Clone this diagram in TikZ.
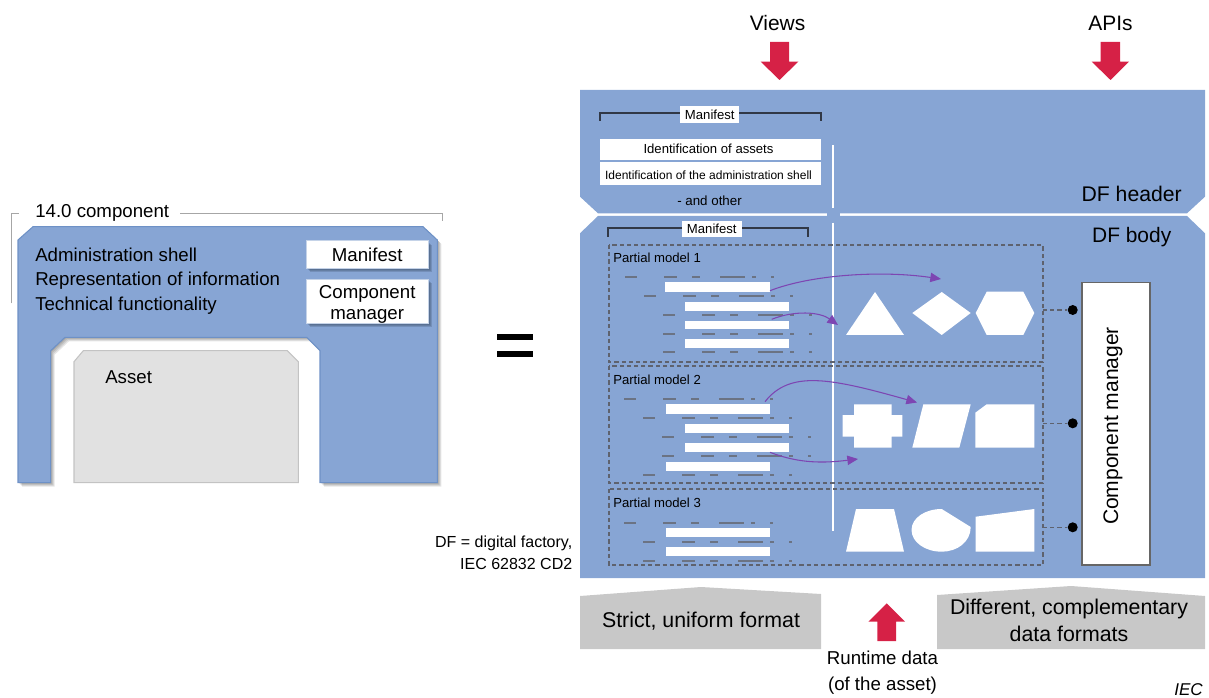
\documentclass[tikz,border=0pt]{standalone}
\usepackage{fontspec}
\setmainfont{Liberation Sans}
\usetikzlibrary{arrows.meta}
\definecolor{panel}{RGB}{135,165,212}
\definecolor{panelEdge}{RGB}{110,145,198}
\definecolor{assetGray}{RGB}{225,225,225}
\definecolor{assetEdge}{RGB}{195,195,195}
\definecolor{fmtGray}{RGB}{200,200,200}
\definecolor{redArrow}{RGB}{214,33,70}
\definecolor{purpleArrow}{RGB}{125,70,178}
\definecolor{tickDark}{RGB}{70,80,100}
\definecolor{dashDark}{RGB}{65,70,85}
\tikzset{
  px/.style={x=0.75pt,y=-0.75pt},
  bigtext/.style={font=\fontsize{14pt}{16pt}\selectfont,inner sep=0pt,anchor=base west},
  boxtext/.style={font=\fontsize{14pt}{16pt}\selectfont,inner sep=0pt,anchor=base},
  centtext/.style={font=\fontsize{16pt}{20pt}\selectfont,inner sep=0pt,align=center},
  smalltext/.style={font=\fontsize{9.85pt}{11pt}\selectfont,inner sep=0pt,align=center},
  whitebar/.style={fill=white,draw=none},
  whiteshape/.style={fill=white,draw=none},
  shadowbox/.style={fill=white,draw=panelEdge!40!white,line width=0.8pt,inner sep=0pt},
  partial/.style={draw=dashDark!85,dashed,dash pattern=on 3.2pt off 2.2pt,line width=0.9pt},
  flow/.style={draw=purpleArrow,line width=0.8pt,-{Triangle[length=8pt,width=7pt]}},
  redup/.style={fill=redArrow,draw=none},
  dot/.style={circle,fill=black,inner sep=0pt,minimum size=7.5pt},
  bracket/.style={draw=tickDark!70!black,line width=1.5pt},
  graybracket/.style={draw=black!35,line width=1pt},
  lab/.style={fill=white,inner sep=0pt,font=\fontsize{9.85pt}{11pt}\selectfont}
}
\newcommand{\tickrow}[2]{% shift, y
  \foreach \a/\b in {625/637,664/677,692/700,720/745,752/756,771/774}
    \draw[draw=tickDark!80,line width=1pt] ({\a+#1},#2) -- ({\b+#1},#2);
}
\newcommand{\outerpath}{(18,240)--(33,226.7)--(423,226.7)--(437.3,240)--(437.3,482.7)--(320,482.7)--(320,350.7)--(306.7,337.3)--(65,337.3)--(50.7,350.7)--(50.7,482.7)--(18,482.7)--cycle}
\begin{document}
\begin{tikzpicture}[px]
\useasboundingbox (0,0) rectangle (1209,698);
% left shape
\foreach \o in {4,3,2,1}
  \fill[black,opacity=.1,xshift=\o*0.75pt,yshift=-\o*0.75pt] \outerpath;
\path[fill=panel,draw=panelEdge,line width=0.8pt] \outerpath;
\path[fill=assetGray,draw=assetEdge,line width=0.8pt] (74,361.7)--(83.3,350.7)--(287.3,350.7)--(298.3,361.7)--(298.3,482.7)--(74,482.7)--cycle;
\draw[graybracket] (11.7,303.3)--(11.7,213.3)--(19.3,213.3);
\draw[graybracket] (180,213.3)--(442.7,213.3)--(442.7,220.7);
\node[bigtext] (t140) at (35,218) {14.0 component};
\node[bigtext] (tadm) at (35,261.5) {Administration shell};
\node[bigtext] (trep) at (35,286) {Representation of information};
\node[bigtext] (ttec) at (35,310.5) {Technical functionality};
\node[bigtext] (tass) at (105,383) {Asset};
\foreach \o in {4,3,2}{
  \fill[black!60!panelEdge,opacity=.2] (306+\o,240.7+\o) rectangle (428.3+\o,268.3+\o);
  \fill[black!60!panelEdge,opacity=.2] (306+\o,279+\o) rectangle (428.3+\o,323.3+\o);
}
\node[shadowbox,minimum width=91.7pt,minimum height=20.7pt] (mfbox) at (367.2,254.5) {};
\node[shadowbox,minimum width=91.7pt,minimum height=33.2pt] (cmbox) at (367.2,301.2) {};
\node[boxtext] (mft) at (367.2,261.5) {Manifest};
\node[boxtext] (cmt1) at (367.2,298.3) {Component};
\node[boxtext] (cmt2) at (367.2,320) {manager};
% equals
\fill[black] (497.3,334.3) rectangle (533.3,340.5);
\fill[black] (497.3,350.7) rectangle (533.3,356.5);
% right panels
\fill[panel] (580,90)--(1205,90)--(1205,196.7)--(1187,213.3)--(598,213.3)--(580,196.7)--cycle;
\fill[panel] (598,216)--(1187,216)--(1205,233.3)--(1205,578)--(580,578)--(580,233.3)--cycle;
\fill[panel] (826.7,212) rectangle (840,217);
\draw[white,line width=1.8pt] (833,145)--(833,208.3);
\draw[white,line width=1.8pt] (833,222.7)--(833,531);
% manifest brackets
\draw[bracket] (599.5,121)--(599.5,113.5)--(821,113.5)--(821,121);
\node[lab,minimum width=44pt,minimum height=12.2pt] (mf1) at (709.8,114.5) {Manifest};
\draw[bracket] (608.3,236.7)--(608.3,228)--(808,228)--(808,236.7);
\node[lab,minimum width=44.8pt,minimum height=11.7pt] (mf2) at (711.8,229) {Manifest};
\fill[white] (600,139.3) rectangle (820.5,160);
\fill[white] (600,161.7) rectangle (820.5,185);
\node[smalltext] (idas) at (708.5,149) {Identification of assets};
\node[font=\fontsize{9pt}{11pt}\selectfont,inner sep=0pt] (idad) at (708.5,175) {Identification of the administration shell};
\node[smalltext,font=\fontsize{10pt}{11pt}\selectfont] (othr) at (709.5,200.5) {- and other};
\node[inner sep=0pt,anchor=base east,font=\fontsize{15.9pt}{16pt}\selectfont] (hdr) at (1182,201.7) {DF header};
\node[inner sep=0pt,anchor=base east,font=\fontsize{15.7pt}{16pt}\selectfont] (bdy) at (1171.5,242.5) {DF body};
% partial models
\draw[partial] (609,245) rectangle (1043,362);
\draw[partial] (609,366) rectangle (1043,483);
\draw[partial] (609,489) rectangle (1043,565);
\node[smalltext,anchor=west] (l1) at (613,257.5) {Partial model 1};
\node[smalltext,anchor=west] (l2) at (613,379.5) {Partial model 2};
\node[smalltext,anchor=west] (l3) at (613,502.5) {Partial model 3};
% tick rows and bars, model 1
\tickrow{0}{277}\tickrow{19}{296}\tickrow{38}{315}\tickrow{38}{334}\tickrow{38}{352}
\fill[whitebar] (665,282) rectangle (770,292);
\fill[whitebar] (685,302) rectangle (789,311);
\fill[whitebar] (685,321) rectangle (789,329);
\fill[whitebar] (685,339) rectangle (789,348);
% model 2
\tickrow{-1}{399}\tickrow{18}{418}\tickrow{37}{437}\tickrow{37}{456}\tickrow{18}{475}
\fill[whitebar] (666,404) rectangle (770,414);
\fill[whitebar] (685,424) rectangle (789,433);
\fill[whitebar] (685,443) rectangle (789,452);
\fill[whitebar] (666,462) rectangle (770,471);
% model 3
\tickrow{-1}{523}\tickrow{18}{542}\tickrow{18}{561}
\fill[whitebar] (666,528) rectangle (770,537);
\fill[whitebar] (666,547) rectangle (770,556);
% shapes
\fill[whiteshape] (846,335)--(875,292)--(904,335)--cycle;
\fill[whiteshape] (912.3,313)--(941.7,292)--(970.7,313)--(941.7,335)--cycle;
\fill[whiteshape] (975.7,313)--(986.7,291.7)--(1023.3,291.7)--(1034.3,313)--(1023.3,335)--(986.7,335)--cycle;
\fill[whiteshape] (854,404.3)--(891.7,404.3)--(891.7,415)--(902.3,415)--(902.3,436.7)--(891.7,436.7)--(891.7,447.7)--(854,447.7)--(854,436.7)--(842.7,436.7)--(842.7,415)--(854,415)--cycle;
\fill[whiteshape] (923.3,404.3)--(970.7,404.3)--(959.3,447.7)--(912.3,447.7)--cycle;
\fill[whiteshape] (986.7,404.3)--(1034.3,404.3)--(1034.3,447.7)--(975.3,447.7)--(975.3,412.7)--cycle;
\fill[whiteshape] (856,509)--(894,509)--(904,551.7)--(846,551.7)--cycle;
\fill[whiteshape] (941.7,509)--(970.7,527) .. controls (970.7,542) and (957,551.7) .. (941.7,551.7) .. controls (925,551.7) and (911.5,542) .. (911.5,530) .. controls (911.5,518) and (925,509) .. (941.7,509)--cycle;
\fill[whiteshape] (975.7,516.7)--(1034.3,509)--(1034.3,551.7)--(975.7,551.7)--cycle;
% purple flows
\coordinate (a1s) at (770,290.7); \coordinate (a1e) at (941,279);
\coordinate (a2s) at (771.7,319.3); \coordinate (a2e) at (838,325);
\coordinate (a3s) at (765,401.7); \coordinate (a3e) at (917,402.5);
\coordinate (a4s) at (770,452.3); \coordinate (a4e) at (858,459);
\draw[flow] (a1s) .. controls (810,275) and (880,270) .. (a1e);
\draw[flow] (a2s) .. controls (795,310) and (820,312) .. (a2e);
\draw[flow] (a3s) .. controls (790,370) and (830,378) .. (a3e);
\draw[flow] (a4s) .. controls (800,464) and (825,463) .. (a4e);
% component manager
\node[draw=black!60,fill=white,line width=1pt,minimum width=51pt,minimum height=212pt,inner sep=0pt] (cm) at (1116,423.6) {};
\node[rotate=90,inner sep=0pt,font=\fontsize{15.8pt}{16pt}\selectfont] (cmt) at (1113,426) {Component manager};
\node[dot] (d1) at (1072.7,310) {};
\node[dot] (d2) at (1072.7,423.3) {};
\node[dot] (d3) at (1072.7,527.3) {};
\coordinate (e1) at (1043,310); \coordinate (e2) at (1043,423.3); \coordinate (e3) at (1043,527.3);
\draw[partial] (e1)--(d1); \draw[partial] (e2)--(d2); \draw[partial] (e3)--(d3);
% format boxes
\fill[fmtGray] (580,596)--(701,587)--(821,594)--(821,649)--(580,649)--cycle;
\fill[fmtGray] (937,595)--(1071,586)--(1205,596)--(1205,649)--(937,649)--cycle;
\node[centtext] (fm1) at (701,621) {Strict, uniform format};
\node[centtext] (fm2) at (1069,620.5) {Different, complementary\\data formats};
% red arrows
\fill[redup] (770,42)--(789,42)--(789,61.7)--(798.3,61.7)--(779.5,80)--(760.7,61.7)--(770,61.7)--cycle;
\fill[redup] (1100.7,42)--(1120,42)--(1120,61.7)--(1129,61.7)--(1110.5,80)--(1091.7,61.7)--(1100.7,61.7)--cycle;
\fill[redup] (877.3,641)--(896,641)--(896,621.7)--(905,621.7)--(886.7,603.3)--(868.3,621.7)--(877.3,621.7)--cycle;
\node[inner sep=0pt,font=\fontsize{15.7pt}{16pt}\selectfont] (views) at (777.5,23) {Views};
\node[inner sep=0pt,font=\fontsize{15.7pt}{16pt}\selectfont] (apis) at (1110.5,23) {APIs};
\node[inner sep=0pt,align=center,font=\fontsize{14pt}{19.5pt}\selectfont] (rt) at (882.5,673) {Runtime data\\(of the asset)};
\node[font=\fontsize{12pt}{16.2pt}\selectfont,align=right,inner sep=0pt,anchor=east] (dfn) at (572.5,552.5) {DF = digital factory,\\IEC 62832 CD2};
\node[font=\fontsize{12.8pt}{12pt}\selectfont\itshape,inner sep=0pt,anchor=base west] (iec) at (1174,695) {IEC};
\end{tikzpicture}
\end{document}
